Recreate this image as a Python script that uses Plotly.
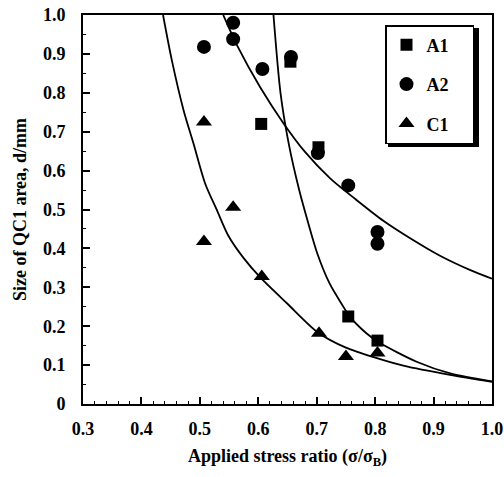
import plotly.graph_objects as go

# ---- data ----
a1_x = [0.605, 0.655, 0.703, 0.754, 0.804]
a1_y = [0.720, 0.880, 0.660, 0.225, 0.163]

a2_x = [0.507, 0.557, 0.557, 0.607, 0.656, 0.702, 0.754, 0.804, 0.804]
a2_y = [0.918, 0.980, 0.938, 0.861, 0.892, 0.645, 0.562, 0.442, 0.412]

c1_x = [0.507, 0.507, 0.557, 0.606, 0.704, 0.750, 0.804]
c1_y = [0.725, 0.418, 0.506, 0.328, 0.182, 0.122, 0.131]

# fitted curves
fit_c1_x = [0.437, 0.452, 0.472, 0.489, 0.509, 0.529, 0.549, 0.575, 0.603, 0.649, 0.702, 0.750, 0.803, 0.850, 0.928, 1.000]
fit_c1_y = [1.000, 0.884, 0.756, 0.670, 0.567, 0.499, 0.432, 0.375, 0.326, 0.259, 0.184, 0.145, 0.118, 0.098, 0.075, 0.057]

fit_a1_x = [0.626, 0.638, 0.652, 0.670, 0.684, 0.701, 0.722, 0.742, 0.757, 0.785, 0.807, 0.872, 0.930, 1.000]
fit_a1_y = [1.000, 0.800, 0.670, 0.550, 0.473, 0.387, 0.310, 0.259, 0.224, 0.182, 0.158, 0.108, 0.078, 0.058]

fit_a2_x = [0.540, 0.565, 0.603, 0.643, 0.680, 0.723, 0.766, 0.814, 0.860, 0.911, 0.963, 1.000]
fit_a2_y = [1.000, 0.918, 0.815, 0.722, 0.648, 0.580, 0.527, 0.471, 0.426, 0.381, 0.344, 0.322]

x_ticks = [0.3, 0.4, 0.5, 0.6, 0.7, 0.8, 0.9, 1.0]
x_labels = ["0.3", "0.4", "0.5", "0.6", "0.7", "0.8", "0.9", "1.0"]
y_ticks = [0, 0.1, 0.2, 0.3, 0.4, 0.5, 0.6, 0.7, 0.8, 0.9, 1.0]
y_labels = ["0", "0.1", "0.2", "0.3", "0.4", "0.5", "0.6", "0.7", "0.8", "0.9", "1.0"]

series_names = ["A1", "A2", "C1"]

FONT = "Liberation Serif"
FS = 18

# plot-area pixel geometry (for placing the legend box and its shadow)
L, R, T, B = 83, 492, 15, 404
PW, PH = R - L, B - T

fig = go.Figure()

for fx, fy in [(fit_c1_x, fit_c1_y), (fit_a1_x, fit_a1_y), (fit_a2_x, fit_a2_y)]:
    fig.add_trace(go.Scatter(x=fx, y=fy, mode="lines",
                             line=dict(color="black", width=1.8, shape="spline", smoothing=0.8),
                             showlegend=False, hoverinfo="skip"))

# invisible trailing filler widens the legend box like the reference
pad = "<span style='color:white'>__</span>"
fig.add_trace(go.Scatter(x=a1_x, y=a1_y, mode="markers", name="<b>%s</b>%s" % (series_names[0], pad),
                         legendgroup="a1",
                         marker=dict(symbol="square", size=12, color="black"), cliponaxis=False))
fig.add_trace(go.Scatter(x=a2_x, y=a2_y, mode="markers", name="<b>%s</b>%s" % (series_names[1], pad),
                         legendgroup="a2",
                         marker=dict(symbol="circle", size=14, color="black"), cliponaxis=False))
fig.add_trace(go.Scatter(x=c1_x, y=c1_y, mode="markers", name="<b>%s</b>%s" % (series_names[2], pad),
                         legendgroup="c1",
                         marker=dict(symbol="triangle-up", size=14, color="black"), cliponaxis=False))

# legend drop shadow (offset black box behind the legend)
fig.add_shape(type="rect", xref="paper", yref="paper", layer="above",
              x0=(388 - L) / PW, x1=(479 - L) / PW,
              y0=(B - 147) / PH, y1=(B - 28) / PH,
              fillcolor="black", line=dict(width=0))

fig.update_layout(
    width=504, height=477,
    margin=dict(l=L, r=504 - R, t=T, b=477 - B, autoexpand=False),
    paper_bgcolor="white", plot_bgcolor="white",
    font=dict(family=FONT, size=FS, color="black"),
    showlegend=True,
    legend=dict(x=(385 - L) / PW, y=(B - 25) / PH, xanchor="left", yanchor="top",
                bordercolor="black", borderwidth=1.5, bgcolor="white",
                traceorder="grouped", tracegroupgap=13,
                font=dict(family=FONT, size=FS, color="black")),
)

fig.update_xaxes(
    range=[0.3, 1.0], tickvals=x_ticks, ticktext=["<b>%s</b>" % t for t in x_labels],
    automargin=False,
    showgrid=False, zeroline=False,
    showline=True, linecolor="black", linewidth=2, mirror=True,
    ticks="inside", ticklen=7, tickwidth=1.5, tickcolor="black",
    ticklabelstandoff=7,
    minor=dict(dtick=0.02, ticks="inside", ticklen=3, tickwidth=1, tickcolor="black"),
    tickfont=dict(family=FONT, size=FS, color="black"),
    title=dict(text="<b>Applied stress ratio (σ/σ<sub>B</sub>)</b>", standoff=12,
               font=dict(family=FONT, size=FS, color="black")),
)
fig.update_yaxes(
    range=[0, 1.0], tickvals=y_ticks, ticktext=["<b>%s</b>" % t for t in y_labels],
    automargin=False,
    showgrid=False, zeroline=False,
    showline=True, linecolor="black", linewidth=2, mirror=True,
    ticks="inside", ticklen=7, tickwidth=1.5, tickcolor="black",
    ticklabelstandoff=12,
    minor=dict(dtick=0.05, ticks="inside", ticklen=3, tickwidth=1, tickcolor="black"),
    tickfont=dict(family=FONT, size=FS, color="black"),
    title=dict(text="<b>Size of QC1 area, d/mm</b>", standoff=12,
               font=dict(family=FONT, size=FS, color="black")),
)

fig.write_html("out.html")
